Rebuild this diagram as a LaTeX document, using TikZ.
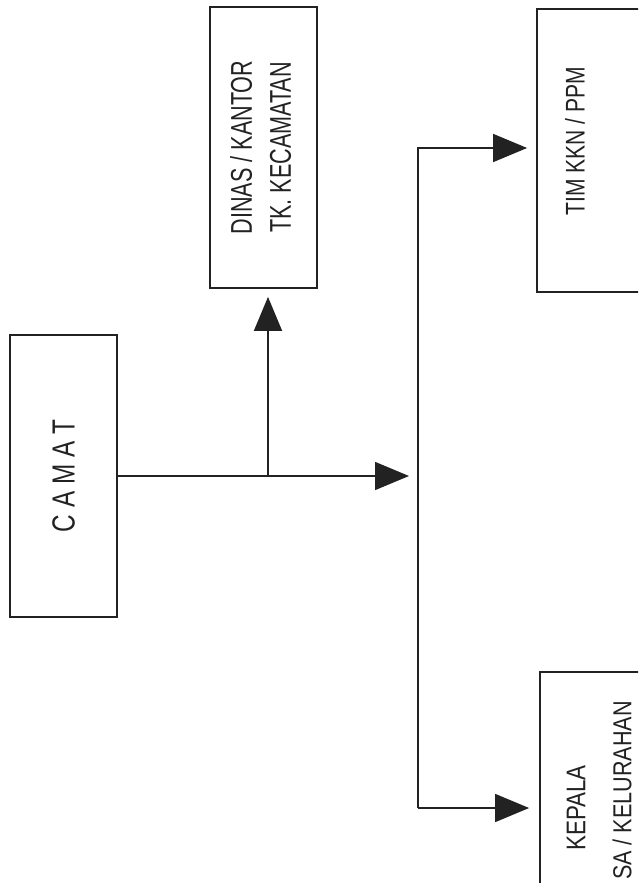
\documentclass[tikz,border=0pt]{standalone}
\usepackage{fontspec}
\setmainfont{Liberation Sans}
\newfontfamily\condfont[FakeStretch=0.72]{Liberation Sans}
\newfontfamily\camatfont[FakeStretch=0.76]{Liberation Sans}
\newfontfamily\timfont[FakeStretch=0.78]{Liberation Sans}
\newfontfamily\kepfont[FakeStretch=0.83]{Liberation Sans}
\usetikzlibrary{arrows.meta,calc}
\definecolor{ink}{HTML}{222222}
\begin{document}
\begin{tikzpicture}[x=1pt,y=-1pt,
  box/.style={draw=ink,line width=1.8pt,inner sep=0pt,text=ink},
  conn/.style={draw=ink,line width=1.6pt},
  arr/.style={conn,-{Triangle[length=34pt,width=28pt]}},
  lbl/.style={inner sep=0pt,text=ink}]
\useasboundingbox (0,0) rectangle (638,883);
\clip (0,0) rectangle (638,883);
\fill[white] (0,0) rectangle (638,883);
% boxes
\node[box,minimum width=107pt,minimum height=282pt] (camat) at (63.5,476)
  {\rotatebox{90}{\camatfont\fontsize{32}{36}\selectfont C A M A T}};
\node[box,minimum width=107pt,minimum height=281pt] (dinas) at (263.5,147.5)
  {\rotatebox{90}{\condfont\fontsize{30}{39}\selectfont\begin{tabular}{@{}c@{}}DINAS / KANTOR\\TK. KECAMATAN\end{tabular}}};
\node[box,minimum width=203pt,minimum height=283pt] (tim) at (638.5,150.5) {};
\node[lbl] (timtxt) at (575,141) {\rotatebox{90}{\timfont\fontsize{27}{30}\selectfont TIM KKN / PPM}};
\node[box,minimum width=200pt,minimum height=330pt] (kep) at (640,837) {};
\node[lbl] (keptxt) at (576,808) {\rotatebox{90}{\kepfont\fontsize{27}{30}\selectfont KEPALA}};
\node[lbl,anchor=south] (keptxt2) at (622,880) {\rotatebox{90}{\kepfont\fontsize{26}{30}\selectfont SA / KELURAHAN}};
% connectors
\coordinate (bt) at (418,148);
\coordinate (bb) at (418,808);
\coordinate (jn) at (268,476);
\draw[arr,shorten >=9pt] (camat.east) -- (camat.east -| bt);
\draw[arr,shorten >=8pt] (jn) -- (jn |- dinas.south);
\draw[arr,shorten >=9pt] (bb) -- (bt) -- (bt -| tim.west);
\draw[arr,shorten >=10pt] (bb) -- (bb -| kep.west);
\end{tikzpicture}
\end{document}
